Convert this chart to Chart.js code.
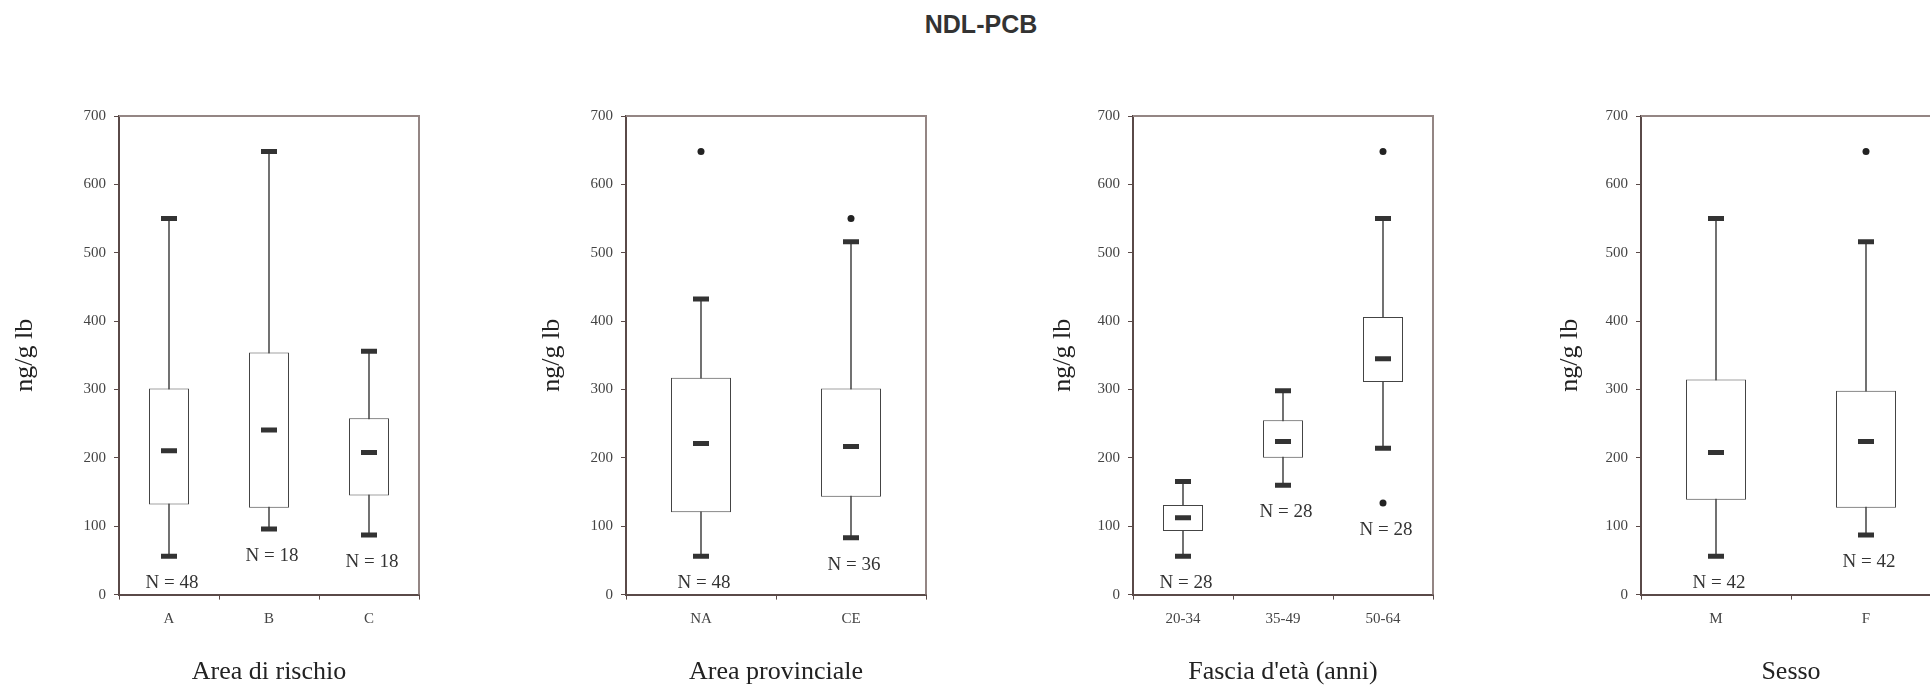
<!DOCTYPE html>
<html>
<head>
<meta charset="utf-8">
<script src="https://cdn.jsdelivr.net/npm/chart.js@4"></script>
<style>
  html, body { margin: 0; padding: 0; background: #fff; }
  body { width: 1930px; height: 688px; overflow: hidden; position: relative; }
  #title { position: absolute; left: 0; width: 1962px; top: 10px; text-align: center;
    font: bold 25px "Liberation Sans", Arial, sans-serif; color: #333; }
  canvas { position: absolute; top: 0; }
</style>
</head>
<body>
<div id="title">NDL-PCB</div>
<canvas id="c1" width="432" height="688" style="left:0px"></canvas>
<canvas id="c2" width="432" height="688" style="left:507px"></canvas>
<canvas id="c3" width="432" height="688" style="left:1014px"></canvas>
<canvas id="c4" width="432" height="688" style="left:1522px"></canvas>
<script>
// Area di rischio
const riskCats = ["A", "B", "C"];
const riskMin = [56, 96, 87];
const riskQ1 = [131.6, 127, 145];
const riskMed = [210.5, 240.7, 208];
const riskQ3 = [301.5, 354, 258];
const riskMax = [550, 648, 356];
const riskOut = [];
const riskN = [48, 18, 18];

// Area provinciale
const provCats = ["NA", "CE"];
const provMin = [56, 83];
const provQ1 = [120.6, 143];
const provMed = [221, 216.5];
const provQ3 = [317, 301.5];
const provMax = [432.5, 516];
const provOut = [{ x: "NA", y: 648 }, { x: "CE", y: 550 }];
const provN = [48, 36];

// Fascia d'età
const ageCats = ["20-34", "35-49", "50-64"];
const ageMin = [56, 160, 214];
const ageQ1 = [93, 200, 311];
const ageMed = [112.4, 224, 345];
const ageQ3 = [131, 255, 406];
const ageMax = [165.6, 298, 550];
const ageOut = [{ x: "50-64", y: 648 }, { x: "50-64", y: 134 }];
const ageN = [28, 28, 28];

// Sesso
const sexCats = ["M", "F"];
const sexMin = [56, 87];
const sexQ1 = [138.7, 127];
const sexMed = [208, 224];
const sexQ3 = [314.7, 298];
const sexMax = [550, 516];
const sexOut = [{ x: "F", y: 648 }];
const sexN = [42, 42];

const yTicks = [0, 100, 200, 300, 400, 500, 600, 700];

const SERIF = '"Liberation Serif", "Times New Roman", serif';

// frame: top and right border of the plot + N labels
const framePlugin = {
  id: "frame",
  afterDatasetsDraw(chart, args, opts) {
    const { ctx, chartArea: a, scales } = chart;
    ctx.save();
    ctx.strokeStyle = "#948684";
    ctx.lineWidth = 2;
    ctx.beginPath();
    ctx.moveTo(a.left, a.top);
    ctx.lineTo(a.right, a.top);
    ctx.lineTo(a.right, a.bottom);
    ctx.stroke();

    ctx.fillStyle = "#333";
    ctx.font = "19px " + SERIF;
    ctx.textAlign = "center";
    ctx.textBaseline = "middle";
    opts.n.forEach((n, i) => {
      let low = opts.min[i];
      opts.out.forEach(p => {
        if (p.x === opts.cats[i] && p.y < low) low = p.y;
      });
      const x = scales.x.getPixelForValue(i) + 3;
      const y = scales.y.getPixelForValue(low) + 27;
      ctx.fillText("N = " + n, x, y);
    });
    ctx.restore();
  }
};

function buildChart(id, xTitle, cats, min, q1, med, q3, max, out, nArr, yTitlePad) {
  const ctx = document.getElementById(id).getContext("2d");
  return new Chart(ctx, {
    type: "bar",
    data: {
      labels: cats,
      datasets: [
        {
          type: "line",
          label: "median",
          data: med,
          showLine: false,
          pointStyle: "line",
          pointRadius: 8,
          pointBorderWidth: 5,
          pointBorderColor: "#333",
          order: 0
        },
        {
          type: "line",
          label: "min",
          data: min,
          showLine: false,
          pointStyle: "line",
          pointRadius: 8,
          pointBorderWidth: 5,
          pointBorderColor: "#333",
          order: 0
        },
        {
          type: "line",
          label: "max",
          data: max,
          showLine: false,
          pointStyle: "line",
          pointRadius: 8,
          pointBorderWidth: 5,
          pointBorderColor: "#333",
          order: 0
        },
        {
          type: "line",
          label: "outliers",
          data: out,
          showLine: false,
          pointStyle: "circle",
          pointRadius: 3.5,
          pointBorderWidth: 0,
          pointBackgroundColor: "#222",
          order: 0
        },
        {
          label: "box",
          data: cats.map((c, i) => [q1[i], q3[i]]),
          backgroundColor: "#fff",
          borderColor: "#444",
          borderWidth: 1,
          borderSkipped: false,
          grouped: false,
          categoryPercentage: 1,
          barPercentage: 0.4,
          order: 1
        },
        {
          label: "whisker",
          data: cats.map((c, i) => [min[i], max[i]]),
          backgroundColor: "#555",
          borderWidth: 0,
          grouped: false,
          barThickness: 1,
          order: 2
        }
      ]
    },
    options: {
      responsive: false,
      animation: false,
      events: [],
      layout: { padding: { top: 116, left: 0, right: 3, bottom: 0 } },
      plugins: {
        legend: { display: false },
        tooltip: { enabled: false },
        frame: { n: nArr, min: min, out: out, cats: cats }
      },
      scales: {
        x: {
          offset: true,
          afterFit(scale) { scale.height = 93.4; },
          grid: {
            offset: true,
            drawOnChartArea: false,
            drawTicks: true,
            tickLength: 5,
            tickColor: "#5a4a48",
            tickWidth: 1
          },
          border: { display: true, color: "#5a4a48", width: 2 },
          ticks: { color: "#444", padding: 10, font: { family: SERIF, size: 15 } },
          title: {
            display: true,
            text: xTitle,
            color: "#222",
            font: { family: SERIF, size: 26 },
            padding: { top: 0, bottom: 0 }
          }
        },
        y: {
          min: 0,
          max: 700,
          afterFit(scale) { scale.width = 119; },
          afterBuildTicks(scale) { scale.ticks = yTicks.map(v => ({ value: v })); },
          grid: {
            drawOnChartArea: false,
            drawTicks: true,
            tickLength: 5,
            tickColor: "#5a4a48",
            tickWidth: 1
          },
          border: { display: true, color: "#5a4a48", width: 2 },
          ticks: { color: "#444", padding: 8, font: { family: SERIF, size: 15 } },
          title: {
            display: true,
            text: "ng/g lb",
            color: "#222",
            font: { family: SERIF, size: 26 },
            padding: { top: yTitlePad, bottom: 0 }
          }
        }
      }
    },
    plugins: [framePlugin]
  });
}

buildChart("c1", "Area di rischio", riskCats, riskMin, riskQ1, riskMed, riskQ3, riskMax, riskOut, riskN, 9.4);
buildChart("c2", "Area provinciale", provCats, provMin, provQ1, provMed, provQ3, provMax, provOut, provN, 29.4);
buildChart("c3", "Fascia d'età (anni)", ageCats, ageMin, ageQ1, ageMed, ageQ3, ageMax, ageOut, ageN, 33.4);
buildChart("c4", "Sesso", sexCats, sexMin, sexQ1, sexMed, sexQ3, sexMax, sexOut, sexN, 32.4);
</script>
</body>
</html>
